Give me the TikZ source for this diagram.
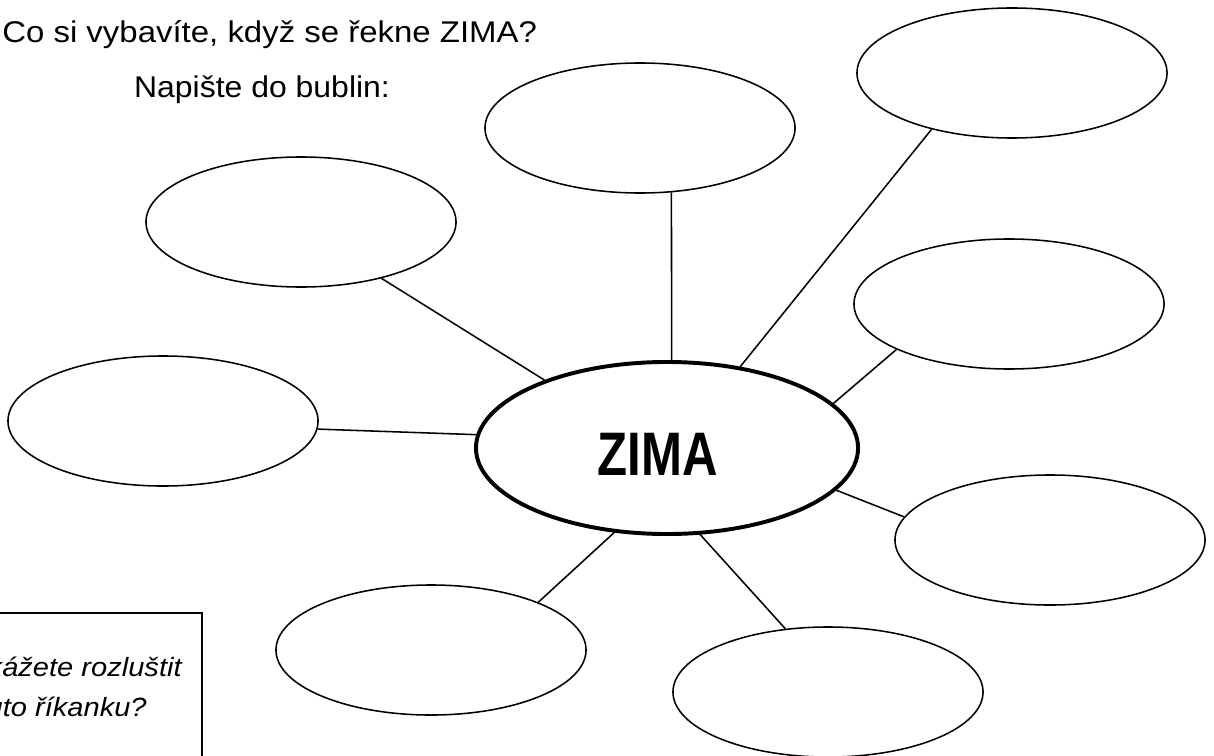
\documentclass[tikz,border=0pt]{standalone}
\usepackage{fontspec}
\usepackage{graphicx}
\setmainfont{Liberation Sans}
\usetikzlibrary{shapes.geometric}

\tikzset{
  bubble/.style={draw,ellipse,line width=1.1pt,minimum width=7.75cm,minimum height=3.25cm,inner sep=0pt},
  hub/.style={draw,ellipse,line width=2.8pt,minimum width=9.55cm,minimum height=4.3cm,inner sep=0pt},
  hubtext/.style={inner sep=0pt,font=\bfseries\fontsize{43.7}{48}\selectfont},
  spoke/.style={line width=1.1pt},
  title/.style={inner sep=0pt,xscale=1.1,font=\fontsize{21.3}{25}\selectfont},
  riddle/.style={inner sep=0pt,xscale=1.1,font=\itshape\fontsize{18.8}{22}\selectfont}
}

\begin{document}
\begin{tikzpicture}[x=0.025cm,y=-0.025cm]
            \clip (0,0) rectangle (1214,755);
            \node[hub] (zima) at (667,448) {};
            \node[hubtext] (zimatext) at (658,454) {\scalebox{0.8}[1]{ZIMA}};
            \node[bubble] (top) at (640,128) {};
            \node[bubble] (topright) at (1012,73) {};
            \node[bubble] (topleft) at (301,222) {};
            \node[bubble] (right) at (1009,304) {};
            \node[bubble] (left) at (163,421) {};
            \node[bubble] (lowright) at (1050,540) {};
            \node[bubble] (lowleft) at (431,650) {};
            \node[bubble] (bottom) at (828,692) {};
            \draw[spoke](zima.87)--(top.-64);
            \draw[spoke](zima.48)--(topright.215);
            \draw[spoke](zima.151)--(topleft.-35);
            \draw[spoke](zima.15)--(right.202);
            \draw[spoke](zima.176)--(left.-3);
            \draw[spoke](zima.-14)--(lowright.171);
            \draw[spoke](zima.238)--(lowleft.24);
            \draw[spoke](zima.-69)--(bottom.124);
            \node[title,anchor=base west] (ask) at (2,43) {Co si vybavíte, když se řekne ZIMA?};
            \node[title,anchor=base,xscale=0.97] (write) at (262,98) {Napište do bublin:};
            \draw[line width=1.1pt] (-20,613) rectangle (202,780);
            \node[riddle,anchor=base east] (line1) at (182,676) {Dokážete rozluštit};
            \node[riddle,anchor=base east] (line2) at (147,716) {tuto říkanku?};
        \end{tikzpicture}
\end{document}
